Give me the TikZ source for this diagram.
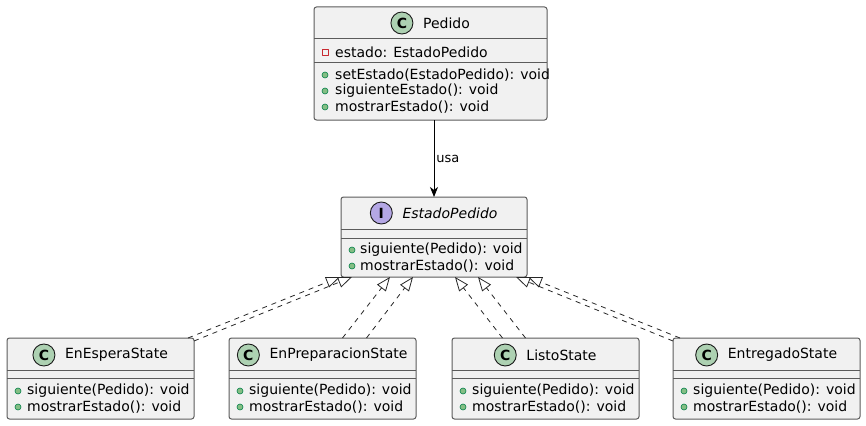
\documentclass[tikz,border=0pt]{standalone}
\usepackage{fontspec}
\setmainfont{DejaVu Sans}
\usetikzlibrary{arrows.meta,positioning}
\definecolor{boxfill}{HTML}{F1F1F1}
\definecolor{boxline}{HTML}{5B5B5B}
\definecolor{classicon}{HTML}{ADD1B2}
\definecolor{ifaceicon}{HTML}{B4A7E5}
\definecolor{pubfill}{HTML}{84BE84}
\definecolor{publine}{HTML}{038048}
\definecolor{privline}{HTML}{C82930}
\tikzset{
	umlbox/.style={draw=boxline, fill=boxfill, line width=1pt, rounded corners=2.5pt, inner sep=0pt, outer sep=0pt, anchor=north west},
	sepline/.style={draw=boxline, line width=1pt},
	icon/.style={circle, draw=black!90, line width=0.9pt, minimum size=22pt, inner sep=0pt, font=\fontsize{14}{14}\selectfont\bfseries},
	classtitle/.style={inner sep=0pt, font=\fontsize{14}{16}\selectfont},
	member/.style={inner sep=0pt, anchor=west, font=\fontsize{14}{16}\selectfont},
	pub/.style={circle, draw=publine, fill=pubfill, line width=0.6pt, minimum size=6pt, inner sep=0pt},
	priv/.style={rectangle, draw=privline, line width=0.8pt, minimum size=6pt, inner sep=0pt},
	realiza/.style={dashed, dash pattern=on 5pt off 5pt, -{Triangle[open, length=14pt, width=11pt]}, line width=0.8pt, draw=black!85},
	usa/.style={-{Stealth[length=10pt, width=8pt, inset=3pt]}, line width=0.9pt},
}
\begin{document}
\begin{tikzpicture}[x=1pt, y=-1pt, line join=round]
	\useasboundingbox (0,0) rectangle (866,425);
	% Pedido
	\node[umlbox, minimum width=233pt, minimum height=113pt] (pedido) at (314,7) {};
	\draw[sepline] (314,39)--(547,39) (314,63)--(547,63);
	\node[classtitle] (pedido-name) at (446.5,23) {Pedido};
	\node[icon, fill=classicon] (pedido-icon) at ([xshift=-21pt]pedido-name.west) {C};
	\node[priv] at (325,52) {};
	\node[member] (pedido-a1) at (335,52) {estado: EstadoPedido};
	\node[pub] at (325,75) {};
	\node[member] (pedido-m1) at (335,75) {setEstado(EstadoPedido): void};
	\node[pub] at (325,91) {};
	\node[member] (pedido-m2) at (335,91) {siguienteEstado(): void};
	\node[pub] at (325,107) {};
	\node[member] (pedido-m3) at (335,107) {mostrarEstado(): void};
	% EstadoPedido
	\node[umlbox, minimum width=186pt, minimum height=80pt] (estado) at (341,197) {};
	\draw[sepline] (341,229)--(527,229) (341,238)--(527,238);
	\node[classtitle] (estado-name) at (450,213) {\itshape EstadoPedido};
	\node[icon, fill=ifaceicon] (estado-icon) at ([xshift=-21pt]estado-name.west) {I};
	\node[pub] at (352,250) {};
	\node[member] (estado-m1) at (360,250) {siguiente(Pedido): void};
	\node[pub] at (352,266) {};
	\node[member] (estado-m2) at (360,266) {mostrarEstado(): void};
	% estados concretos
	\foreach \nm/\cls/\xl in {enespera/EnEsperaState/7, enprep/EnPreparacionState/229, listo/ListoState/452, entregado/EntregadoState/673}
	{\node[umlbox, minimum width=187pt, minimum height=81pt] (\nm) at (\xl,338) {};
		\draw[sepline] (\xl,370)--(\xl+187,370) (\xl,378)--(\xl+187,378);
		\node[classtitle] (\nm-name) at (\xl+109.5,355) {\cls};
		\node[icon, fill=classicon] (\nm-icon) at ([xshift=-21pt]\nm-name.west) {C};
		\node[pub] at (\xl+11,391) {};
		\node[member] (\nm-m1) at (\xl+20,391) {siguiente(Pedido): void};
		\node[pub] at (\xl+11,407) {};
		\node[member] (\nm-m2) at (\xl+20,407) {mostrarEstado(): void};}
	% relaciones
	\draw[usa] (estado.north |- pedido.south) -- (estado.north) node[midway, right, inner sep=2pt, font=\fontsize{13}{15}\selectfont] (usa-label) {usa};
	\draw[realiza] ([xshift=-6pt]enespera.north east) -- ([xshift=-94pt]estado.south);
	\draw[realiza] ([yshift=-3pt]enespera.north east) -- ([xshift=-82pt]estado.south);
	\draw[realiza] ([xshift=20pt]enprep.north) -- ([xshift=-44pt]estado.south);
	\draw[realiza] ([xshift=44pt]enprep.north) -- ([xshift=-21pt]estado.south);
	\draw[realiza] ([xshift=-43pt]listo.north) -- ([xshift=21pt]estado.south);
	\draw[realiza] ([xshift=-20pt]listo.north) -- ([xshift=44pt]estado.south);
	\draw[realiza] ([yshift=-3pt]entregado.north west) -- ([xshift=82pt]estado.south);
	\draw[realiza] ([xshift=7pt]entregado.north west) -- ([xshift=94pt]estado.south);
\end{tikzpicture}
\end{document}
